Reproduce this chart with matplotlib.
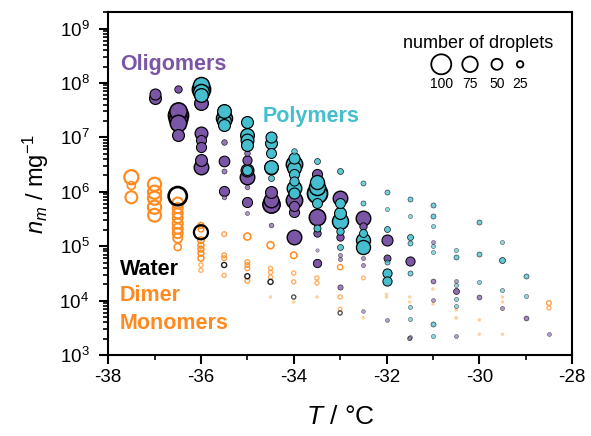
import numpy as np
import matplotlib
matplotlib.use("Agg")
import matplotlib.pyplot as plt

plt.rcParams['font.family'] = ['Liberation Sans', 'DejaVu Sans']
plt.rcParams['mathtext.fontset'] = 'custom'
plt.rcParams['mathtext.rm'] = 'Liberation Sans'
plt.rcParams['mathtext.it'] = 'Liberation Sans:italic'

# ---------------- data: (T [°C], n_m [mg^-1], number of droplets) ----------------
olig_T = [-37, -37,
          -36.5, -36.5, -36.5, -36.5, -36.5, -36.5,
          -36, -36, -36, -36, -36, -36,
          -35.5, -35.5, -35.5, -35.5, -35.5,
          -35, -35, -35, -35, -35, -35, -35,
          -34.5, -34.5, -34.5, -34.5, -34.5,
          -34, -34, -34, -34, -34,
          -33.5, -33.5, -33.5, -33.5, -33.5,
          -33, -33, -33, -33, -33,
          -32.5, -32.5, -32.5, -32.5, -32.5, -32.5,
          -32, -32, -32,
          -31.5, -31.5,
          -31, -31, -31,
          -30.5, -30.5, -30.5,
          -30, -29.5, -29, -28.5]
olig_n = [6.4e7, 5.4e7,
          7.9e7, 3.1e7, 2.6e7, 2.2e7, 1.8e7, 1.1e7,
          4.2e7, 1.2e7, 8.8e6, 6.6e6, 3.8e6, 2.8e6,
          8.1e6, 3.6e6, 2.4e6, 1.02e6, 7.9e5,
          5.1e6, 3.8e6, 2.5e6, 1.9e6, 1.2e6, 6.4e5, 4.0e5,
          2.7e6, 9.8e5, 7.0e5, 5.9e5, 2.4e5,
          2.2e6, 7.0e5, 5.5e5, 4.2e5, 1.46e5,
          2.1e6, 3.4e5, 1.73e5, 8.5e4, 4.9e4,
          7.6e5, 1.46e5, 6.8e4, 5.8e4, 1.77e4,
          3.3e5, 2.3e5, 8.5e4, 6.0e4, 4.5e4, 6.4e3,
          1.29e5, 6.0e4, 4.4e3,
          5.3e4, 2.1e3,
          1.18e5, 2.3e4, 1.02e4,
          2.3e4, 1.5e4, 2.2e3,
          1.16e4, 7.3e3, 4.8e3, 2.4e3]
olig_N = [50, 55,
          30, 85, 100, 90, 80, 55,
          65, 60, 45, 45, 55, 70,
          20, 48, 17, 45, 15,
          20, 40, 60, 70, 15, 45, 12,
          60, 55, 70, 85, 15,
          40, 80, 45, 45, 70,
          45, 80, 30, 8, 35,
          70, 30, 12, 12, 18,
          70, 30, 20, 12, 12, 10,
          50, 28, 11,
          40, 11,
          11, 16, 11,
          11, 22, 11,
          16, 12, 16, 11]

poly_T = [-36, -36, -36, -36,
          -35.5, -35.5, -35.5, -35.5,
          -35, -35, -35, -35, -35,
          -34.5, -34.5, -34.5, -34.5, -34.5,
          -34, -34, -34, -34, -34, -34, -34, -34,
          -33.5, -33.5, -33.5, -33.5, -33.5, -33.5,
          -33, -33, -33, -33, -33, -33,
          -32.5, -32.5, -32.5, -32.5, -32.5,
          -32, -32, -32, -32, -32, -32,
          -31.5, -31.5, -31.5, -31.5, -31.5, -31.5, -31.5,
          -31, -31, -31, -31, -31, -31, -31,
          -30.5, -30.5, -30.5, -30.5, -30.5,
          -30, -30, -30,
          -29.5, -29.5, -29.5,
          -29, -29]
poly_n = [9.0e7, 7.9e7, 6.7e7, 5.9e7,
          3.1e7, 2.3e7, 2.0e7, 1.7e7,
          1.9e7, 1.09e7, 8.8e6, 7.1e6, 2.5e6,
          1.0e7, 7.8e6, 5.1e6, 2.8e6, 1.8e6,
          5.5e6, 4.1e6, 3.3e6, 2.7e6, 2.1e6, 1.56e6, 1.16e6, 9.4e5,
          3.6e6, 1.5e6, 1.2e6, 9.4e5, 6.2e5, 2.2e5,
          2.4e6, 6.2e5, 4.0e5, 2.9e5, 1.9e5, 9.6e4,
          1.43e6, 6.2e5, 1.73e5, 1.29e5, 9.6e4,
          9.8e5, 4.8e5, 2.1e5, 5.1e4, 3.2e4, 2.3e4,
          7.3e5, 3.6e5, 1.46e5, 1.13e5, 3.2e4, 7.6e3, 4.6e3,
          5.7e5, 3.6e5, 2.3e5, 1.0e5, 7.8e4, 3.7e3, 2.2e3,
          8.5e4, 6.3e4, 1.9e4, 1.07e4, 7.9e3,
          2.8e5, 7.1e4, 2.2e4,
          1.18e5, 5.5e4, 1.56e4,
          2.8e4, 1.2e4]
poly_N = [78, 90, 78, 65,
          65, 78, 65, 55,
          55, 65, 60, 55, 44,
          50, 55, 44, 65, 22,
          20, 50, 80, 65, 45, 40, 70, 50,
          22, 67, 78, 100, 44, 28,
          22, 44, 55, 78, 30, 22,
          17, 17, 33, 67, 67,
          17, 12, 22, 17, 40, 40,
          17, 12, 22, 17, 17, 12, 12,
          17, 17, 12, 12, 12, 17, 12,
          12, 17, 12, 12, 12,
          17, 17, 12,
          12, 22, 12,
          17, 12]

water_T = [-36.5, -36, -35.5, -35, -34.5, -34, -33, -31.5]
water_n = [8.3e5, 1.8e5, 4.5e4, 2.8e4, 2.2e4, 1.16e4, 5.9e3, 2.0e3]
water_N = [90, 67, 17, 17, 17, 12, 12, 10]

dimer_T = [-37.5, -37.5, -37.5,
           -37, -37, -37, -37, -37,
           -36.5, -36.5, -36.5, -36.5, -36.5, -36.5, -36.5, -36.5, -36.5,
           -36, -36, -36, -36, -36, -36, -36, -36, -36,
           -35.5, -35.5, -35.5, -35.5,
           -35, -35, -35, -35, -35,
           -34.5, -34.5, -34.5, -34.5,
           -34, -34, -34,
           -33.5, -33.5,
           -33, -33, -33,
           -32.5,
           -28.5, -28.5]
dimer_n = [1.85e6, 1.3e6, 7.9e5,
           1.37e6, 9.8e5, 7.6e5, 5.2e5, 3.7e5,
           6.2e5, 5.0e5, 4.0e5, 3.3e5, 2.6e5, 2.1e5, 1.73e5, 1.4e5, 9.6e4,
           2.4e5, 2.05e5, 1.29e5, 1.04e5, 8.8e4, 7.4e4, 6.0e4, 4.5e4, 3.6e4,
           1.66e5, 6.8e4, 6.0e4, 2.9e4,
           1.5e5, 5.1e4, 4.5e4, 3.9e4, 2.3e4,
           1.04e5, 3.9e4, 3.3e4, 2.7e4,
           6.8e4, 3.2e4, 2.2e4,
           2.6e4, 2.1e4,
           4.1e4, 1.16e4, 7.0e3,
           2.6e4,
           9.0e3, 7.3e3]
dimer_N = [67, 33, 55,
           62, 62, 62, 62, 60,
           50, 45, 45, 45, 45, 45, 45, 40, 28,
           22, 20, 25, 22, 22, 22, 22, 12, 12,
           15, 15, 15, 12,
           28, 15, 15, 15, 15,
           28, 12, 12, 12,
           25, 12, 12,
           12, 12,
           18, 12, 10,
           10,
           15, 12]

mono_T = [-34.5, -34, -33.5, -32.5, -32, -32, -31.5, -31.5, -31, -31,
          -30.5, -30.5, -30, -30, -29.5, -29.5, -29.5]
mono_n = [1.16e4, 9.4e3, 1.16e4, 4.8e3, 1.3e4, 1.16e4, 1.16e4, 9.4e3, 1.63e4, 8.6e3,
          6.7e3, 4.8e3, 4.4e3, 2.4e3, 1.16e4, 9.4e3, 2.4e3]
mono_N = [8, 8, 8, 8, 8, 8, 8, 8, 8, 8,
          8, 10, 8, 8, 8, 8, 8]

legend_counts = [100, 75, 50, 25]

x_ticks = [-38, -36, -34, -32, -30, -28]

C_OLIG = '#7B55A6'
C_POLY = '#45BFCF'
C_ORANGE = '#FF8A1F'
C_MONO = '#FFC48A'


def msize(N):
    N = np.asarray(N, dtype=float)
    d_px = 2.0 + 0.18 * N
    return (d_px * 0.72) ** 2


def filled(ax, T, n, N, color, z):
    T = np.asarray(T); n = np.asarray(n); N = np.asarray(N, dtype=float)
    order = np.argsort(-N)
    for i in order:
        a = min(1.0, 0.3 + N[i] / 40.0)
        ax.scatter(T[i], n[i], s=msize(N[i]), c=color, edgecolors='black',
                   linewidths=0.3 + N[i] / 100.0, alpha=a, zorder=z)


def hollow(ax, T, n, N, color, z):
    T = np.asarray(T); n = np.asarray(n); N = np.asarray(N, dtype=float)
    for i in range(len(T)):
        a = min(1.0, 0.3 + N[i] / 30.0)
        ax.scatter(T[i], n[i], s=msize(N[i]), facecolors='none', edgecolors=color,
                   linewidths=0.8 + N[i] / 80.0, alpha=a, zorder=z)


fig = plt.figure(figsize=(5.91, 4.36), dpi=100)
ax = fig.add_axes([0.183, 0.186, 0.785, 0.786])

hollow(ax, dimer_T, dimer_n, dimer_N, C_ORANGE, 2)
ax.scatter(mono_T, mono_n, s=msize(mono_N), c=C_MONO, edgecolors='none', alpha=0.8, zorder=2)
hollow(ax, water_T, water_n, water_N, 'black', 3)
filled(ax, olig_T, olig_n, olig_N, C_OLIG, 4)
filled(ax, poly_T, poly_n, poly_N, C_POLY, 5)

ax.set_yscale('log')
ax.set_xlim(-38, -28)
ax.set_ylim(1e3, 2e9)
ax.set_xticks(x_ticks)
ax.set_xticklabels([str(t) for t in x_ticks])
ax.set_xticks(np.arange(-37, -28, 2), minor=True)
ax.set_yticks([1e3, 1e4, 1e5, 1e6, 1e7, 1e8, 1e9])

for sp in ax.spines.values():
    sp.set_linewidth(1.5)
ax.tick_params(axis='both', which='major', direction='out', length=6.5, width=1.5,
               labelsize=13.5, top=False, right=False)
ax.tick_params(axis='y', which='major', pad=7)
ax.tick_params(axis='both', which='minor', direction='out', length=3.5, width=1.2,
               top=False, right=False)

ax.set_xlabel('$T$ / °C', fontsize=19, labelpad=14)
ax.set_ylabel('$n_m$ / mg$^{-1}$', fontsize=17, labelpad=6)

lab = dict(transform=ax.transAxes, fontsize=15.5, fontweight='bold',
           va='center', ha='left')
ax.text(0.025, 0.848, 'Oligomers', color=C_OLIG, **lab)
ax.text(0.332, 0.697, 'Polymers', color=C_POLY, **lab)
ax.text(0.025, 0.248, 'Water', color='black', **lab)
ax.text(0.025, 0.172, 'Dimer', color=C_ORANGE, **lab)
ax.text(0.025, 0.093, 'Monomers', color=C_ORANGE, **lab)

# size legend
ax.text(0.797, 0.91, 'number of droplets', transform=ax.transAxes,
        fontsize=13, ha='center', va='center')
lx = [0.718, 0.780, 0.838, 0.888]
for x, c in zip(lx, legend_counts):
    ax.scatter([x], [0.848], s=msize(c), facecolors='none', edgecolors='black',
               linewidths=1.3, transform=ax.transAxes, zorder=6, clip_on=False)
    ax.text(x, 0.790, str(c), transform=ax.transAxes, fontsize=10,
            ha='center', va='center')

fig.savefig('out.png', dpi=100)
